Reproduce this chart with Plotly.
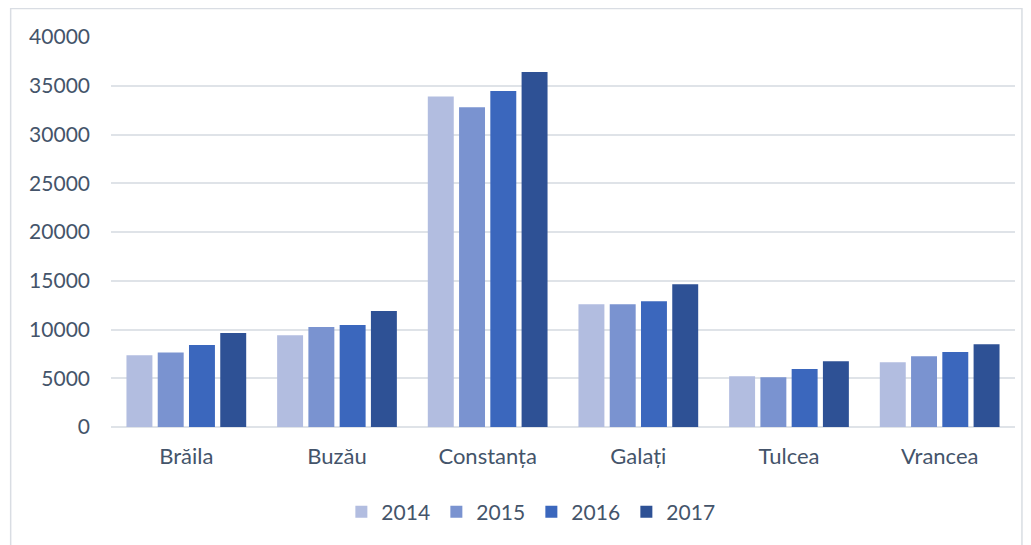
import plotly.graph_objects as go

judete = ["Brăila", "Buzău", "Constanța", "Galați", "Tulcea", "Vrancea"]
ani = ["2014", "2015", "2016", "2017"]

v2014 = [7350, 9400, 33900, 12600, 5200, 6650]
v2015 = [7650, 10250, 32800, 12600, 5100, 7250]
v2016 = [8400, 10450, 34450, 12900, 5950, 7700]
v2017 = [9650, 11900, 36400, 14650, 6750, 8500]

valori = [v2014, v2015, v2016, v2017]
culori = ["#b2bde0", "#7a93d0", "#3b67bd", "#2e5195"]

fig = go.Figure()
for an, vals, c in zip(ani, valori, culori):
    fig.add_trace(go.Bar(x=judete, y=vals, name=an, marker_color=c,
                         marker_line_width=0))

txt = "#44546a"
# pagina are margine de 8px in browser
fig.update_layout(
    width=1023, height=537,
    margin=dict(l=103, r=16, t=29, b=118),
    paper_bgcolor="white", plot_bgcolor="white",
    barmode="group", bargap=0.17, bargroupgap=0.17,
    font=dict(family="Lato, Open Sans, sans-serif", size=21, color=txt),
    showlegend=True,
    legend=dict(orientation="h", x=0.465, xanchor="center", y=-0.218, yanchor="middle",
                font=dict(size=21, color=txt), itemwidth=30, traceorder="normal",
                entrywidth=50, entrywidthmode="pixels"),
    shapes=[dict(type="rect", xref="paper", yref="paper",
                 x0=-0.111, x1=1.0077, y0=-0.32, y1=1.073,
                 line=dict(color="#d9dde3", width=1.5))],
)
fig.update_yaxes(range=[0, 40000], dtick=5000, tickformat="d", showgrid=True,
                 gridcolor="#dfe3e8", gridwidth=2, zeroline=True, zerolinecolor="#dfe3e8",
                 zerolinewidth=2, showline=False, ticks="", ticklabelstandoff=20)
fig.update_xaxes(showline=False, ticks="", showgrid=False, ticklabelstandoff=14,
                 tickfont=dict(size=22))

fig.write_html("out.html")
